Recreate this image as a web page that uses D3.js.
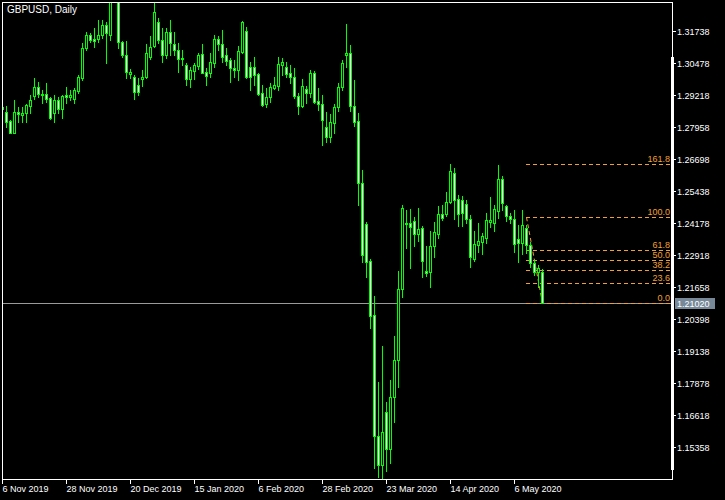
<!DOCTYPE html>
<html>
<head>
<meta charset="utf-8">
<script src="https://cdn.jsdelivr.net/npm/d3@7/dist/d3.min.js"></script>
<style>
  html, body { margin: 0; padding: 0; background: #000; }
  svg { display: block; }
  text { font-family: "Liberation Sans", Arial, sans-serif; }
</style>
</head>
<body>
<svg id="chart" width="725" height="500"></svg>
<script>
// ---- data (GBPUSD daily, bar 0 = 6 Nov 2019) ----
const opens = [1.28738,1.28530,1.28188,1.27728,1.28530,1.28424,1.28491,1.28789,1.29183,1.29513,
1.29250,1.29238,1.29081,1.28514,1.29014,1.28648,1.29198,1.29120,1.29041,1.29379,
1.29867,1.31046,1.31569,1.31412,1.31400,1.31569,1.31962,1.31569,1.34400,1.33300,
1.31282,1.30783,1.30036,1.29930,1.29603,1.29839,1.29930,1.30692,1.31137,1.32092,
1.31372,1.30783,1.31699,1.31203,1.30979,1.30653,1.30390,1.29839,1.30166,1.30362,
1.30810,1.30103,1.30087,1.30480,1.31400,1.31203,1.30783,1.30586,1.30283,1.30193,
1.30912,1.31726,1.30299,1.30299,1.30024,1.29277,1.28856,1.29120,1.29497,1.29576,
1.30390,1.30323,1.30063,1.29930,1.29183,1.28778,1.29434,1.29301,1.30063,1.28963,
1.28845,1.27940,1.27547,1.28090,1.28727,1.29525,1.30763,1.30850,1.28789,1.28200,
1.25739,1.24127,1.22684,1.20561,1.15804,1.14664,1.16736,1.15281,1.17349,1.18792,
1.21571,1.24190,1.24166,1.24257,1.23734,1.23970,1.22291,1.22263,1.23285,1.23746,
1.24520,1.24532,1.24992,1.26132,1.25110,1.25082,1.24913,1.24323,1.22763,1.23313,
1.23443,1.23600,1.24217,1.24190,1.24662,1.25896,1.24846,1.24453,1.24335,1.23537,
1.23380,1.23970,1.23313,1.22594,1.22263,1.22263];
const highs = [1.28856,1.28778,1.28227,1.29014,1.28738,1.28750,1.28856,1.29210,1.29867,1.29733,
1.29407,1.29670,1.29143,1.29210,1.29143,1.29198,1.29513,1.29407,1.29474,1.29997,
1.31243,1.31699,1.31636,1.31832,1.32159,1.32159,1.32092,1.35000,1.35140,1.33500,
1.31345,1.31333,1.30221,1.29996,1.29890,1.30193,1.31203,1.31530,1.32815,1.32226,
1.31832,1.31832,1.32159,1.31699,1.31243,1.30979,1.30456,1.30323,1.30456,1.30850,
1.31215,1.30260,1.30850,1.31569,1.31530,1.31766,1.31046,1.30653,1.30586,1.31137,
1.32131,1.31872,1.30519,1.30716,1.30063,1.29603,1.29474,1.29670,1.29906,1.30716,
1.30653,1.30519,1.30390,1.30260,1.29277,1.29839,1.29564,1.30193,1.30166,1.29474,
1.29210,1.28554,1.28463,1.28856,1.29694,1.30567,1.32001,1.31176,1.29800,1.28491,
1.26262,1.24229,1.22763,1.21308,1.17939,1.19342,1.17153,1.18006,1.19736,1.22291,
1.24886,1.24689,1.24728,1.24402,1.24756,1.24060,1.23274,1.23867,1.24229,1.24846,
1.24886,1.25409,1.26497,1.26352,1.25279,1.25240,1.25082,1.24492,1.23867,1.24166,
1.23773,1.24559,1.25188,1.24886,1.26458,1.26026,1.24886,1.24559,1.24689,1.24099,
1.24689,1.24099,1.23443,1.22723,1.22527,1.22358];
const lows = [1.28542,1.27940,1.27704,1.27716,1.28160,1.28160,1.28160,1.28491,1.29041,1.29143,
1.28884,1.28947,1.28255,1.28160,1.28491,1.28294,1.28884,1.29014,1.28884,1.29277,
1.29800,1.30979,1.31306,1.31109,1.31306,1.31439,1.30480,1.31372,1.33000,1.31046,
1.30692,1.29890,1.29867,1.29041,1.29210,1.29564,1.29867,1.30614,1.31109,1.31243,
1.30519,1.30653,1.30783,1.30783,1.30126,1.30390,1.29603,1.29513,1.29839,1.30232,
1.30063,1.29603,1.29930,1.30323,1.30979,1.30519,1.30390,1.29733,1.29930,1.29800,
1.30850,1.29867,1.29407,1.29603,1.29210,1.28778,1.28727,1.28947,1.29434,1.29407,
1.29996,1.29930,1.29670,1.29081,1.28463,1.28727,1.28884,1.29143,1.28884,1.28620,
1.27245,1.27374,1.27374,1.27704,1.28581,1.29387,1.30323,1.28593,1.27991,1.24886,
1.22656,1.22043,1.20038,1.14534,1.14181,1.14141,1.14440,1.14754,1.16366,1.17742,
1.21281,1.23183,1.22421,1.23274,1.23482,1.22043,1.22094,1.21650,1.22853,1.23600,
1.24296,1.24453,1.24952,1.24335,1.24072,1.24072,1.24166,1.22460,1.22696,1.23050,
1.22959,1.23380,1.24033,1.23875,1.24363,1.24689,1.24268,1.24166,1.23050,1.22656,
1.22959,1.22987,1.22460,1.22134,1.21674,1.21020];
const closes = [1.28660,1.28160,1.27728,1.28530,1.28451,1.28491,1.28817,1.29014,1.29513,1.29238,
1.29210,1.29041,1.28294,1.29014,1.28648,1.29183,1.29120,1.29198,1.29407,1.29906,
1.31046,1.31569,1.31372,1.31345,1.31569,1.31962,1.31636,1.34400,1.33300,1.31306,
1.30783,1.30103,1.30103,1.29340,1.29340,1.29930,1.30850,1.31109,1.32461,1.31372,
1.30783,1.31699,1.31243,1.30960,1.30626,1.30626,1.29839,1.30193,1.30390,1.30783,
1.30087,1.29969,1.30496,1.31400,1.31203,1.30716,1.30559,1.30283,1.30193,1.30940,
1.32092,1.29930,1.29930,1.29996,1.29250,1.28817,1.29143,1.29513,1.29592,1.30417,
1.30496,1.30036,1.29930,1.29183,1.28789,1.29564,1.29277,1.30087,1.28947,1.28845,
1.28216,1.27547,1.28137,1.28727,1.29513,1.30456,1.30850,1.28789,1.28160,1.25739,
1.22920,1.22656,1.20541,1.15804,1.14664,1.15973,1.15281,1.17349,1.18792,1.21571,
1.24756,1.24139,1.24033,1.23734,1.23930,1.22696,1.22200,1.23285,1.23812,1.24532,
1.24363,1.24992,1.26234,1.25082,1.24532,1.24559,1.24323,1.22853,1.23341,1.23470,
1.23667,1.24296,1.24296,1.24717,1.25896,1.24952,1.24441,1.24323,1.23353,1.23380,
1.24099,1.23313,1.22594,1.22263,1.22397,1.21020];

const priceTicks = [1.15358,1.16618,1.17878,1.19138,1.20398,1.21658,1.22918,1.24178,1.25438,1.26698,1.27958,1.29218,1.30478,1.31738];
const dateLabels = ["6 Nov 2019","28 Nov 2019","20 Dec 2019","15 Jan 2020","6 Feb 2020","28 Feb 2020","23 Mar 2020","14 Apr 2020","6 May 2020"];
const dateLabelBars = [0,16,32,48,64,80,96,112,128];

const fibLevels = [0, 23.6, 38.2, 50.0, 61.8, 100.0, 161.8];
const fibHigh = 1.24402, fibLow = 1.21020;
const fibStartBar = 131, fibEndBar = 135;

const title = "GBPUSD, Daily";

// ---- layout ----
const L = 2, R = 672, T = 2, B = 479;
const svg = d3.select("#chart");
svg.append("rect").attr("width", 725).attr("height", 500).attr("fill", "#000");

const x = d3.scaleLinear().domain([0, 1]).range([L, L + 4]);
const y = d3.scaleLinear().domain([1.14114, 1.32866]).range([B, T]);

svg.append("clipPath").attr("id", "plot")
  .append("rect").attr("x", L).attr("y", T).attr("width", R - L).attr("height", B - T);

const g = svg.append("g").attr("clip-path", "url(#plot)").attr("shape-rendering", "crispEdges");

// current price line
const last = closes[closes.length - 1];
g.append("line")
  .attr("x1", L).attr("x2", R)
  .attr("y1", Math.round(y(last)) + 0.5).attr("y2", Math.round(y(last)) + 0.5)
  .attr("stroke", "#9a9a9a").attr("stroke-width", 1);

// fibonacci levels
const fibColor = "#f0a030";
const fg = g.append("g");
fibLevels.forEach(lv => {
  const p = fibLow + (fibHigh - fibLow) * lv / 100;
  const yy = Math.round(y(p)) + 0.5;
  fg.append("line")
    .attr("x1", x(fibStartBar)).attr("x2", R)
    .attr("y1", yy).attr("y2", yy)
    .attr("stroke", fibColor).attr("stroke-width", 1)
    .attr("stroke-dasharray", "4,3");
  svg.append("text")
    .attr("x", 670).attr("y", yy - 3)
    .attr("text-anchor", "end")
    .attr("fill", fibColor)
    .attr("font-size", "9px")
    .text(lv.toFixed(1));
});
fg.append("line")
  .attr("x1", x(fibStartBar) + 0.5).attr("y1", y(fibHigh))
  .attr("x2", x(fibEndBar) + 0.5).attr("y2", y(fibLow))
  .attr("stroke", fibColor).attr("stroke-width", 1)
  .attr("stroke-dasharray", "4,3")
  .attr("shape-rendering", "auto");

// candles
const lime = "#00ff00";
const idx = d3.range(opens.length);
const cg = g.append("g");
cg.selectAll("line.wick").data(idx).join("line")
  .attr("class", "wick")
  .attr("x1", i => x(i) + 0.5).attr("x2", i => x(i) + 0.5)
  .attr("y1", i => Math.round(y(highs[i]))).attr("y2", i => Math.round(y(lows[i])) + 1)
  .attr("stroke", lime).attr("stroke-width", 1);
cg.selectAll("rect.body").data(idx).join("rect")
  .attr("class", "body")
  .attr("x", i => x(i) - 0.5)
  .attr("width", 2)
  .attr("y", i => Math.round(y(Math.max(opens[i], closes[i]))) + 0.5)
  .attr("height", i => Math.max(1, Math.round(y(Math.min(opens[i], closes[i]))) - Math.round(y(Math.max(opens[i], closes[i])))))
  .attr("fill", i => closes[i] < opens[i] ? "#ffffff" : "#000000")
  .attr("stroke", lime).attr("stroke-width", 1);

// frame
const frame = svg.append("g").attr("shape-rendering", "crispEdges");
frame.append("rect").attr("x", L + 0.5).attr("y", T + 0.5)
  .attr("width", R - L).attr("height", B - T)
  .attr("fill", "none").attr("stroke", "#ffffff").attr("stroke-width", 1);
// right-side marker bar
frame.append("rect").attr("x", R - 1).attr("y", 57).attr("width", 3).attr("height", 413).attr("fill", "#ffffff");

// price axis
const yAxis = svg.append("g");
priceTicks.forEach(v => {
  const yy = Math.round(y(v)) + 0.5;
  yAxis.append("line").attr("x1", R).attr("x2", R + 4).attr("y1", yy).attr("y2", yy)
    .attr("stroke", "#fff").attr("shape-rendering", "crispEdges");
  yAxis.append("text").attr("x", 677).attr("y", yy).attr("dy", "0.35em")
    .attr("fill", "#fff").attr("font-size", "9px").text(v.toFixed(5));
});

// current price label
const ly = Math.round(y(last));
svg.append("rect").attr("x", 675).attr("y", ly - 5).attr("width", 40).attr("height", 11)
  .attr("fill", "#778899");
svg.append("text").attr("x", 677).attr("y", ly + 0.5).attr("dy", "0.35em")
  .attr("fill", "#fff").attr("font-size", "9px").text(last.toFixed(5));

// date axis
const xAxis = svg.append("g");
dateLabels.forEach((d, j) => {
  const xx = Math.round(x(dateLabelBars[j])) + 0.5;
  xAxis.append("line").attr("x1", xx).attr("x2", xx).attr("y1", B).attr("y2", B + 5)
    .attr("stroke", "#fff").attr("shape-rendering", "crispEdges");
  xAxis.append("text").attr("x", xx).attr("y", 492)
    .attr("fill", "#fff").attr("font-size", "9px").text(d);
});

// title
svg.append("text").attr("x", 7).attr("y", 13).attr("fill", "#fff")
  .attr("font-size", "10px").text(title);
</script>
</body>
</html>
